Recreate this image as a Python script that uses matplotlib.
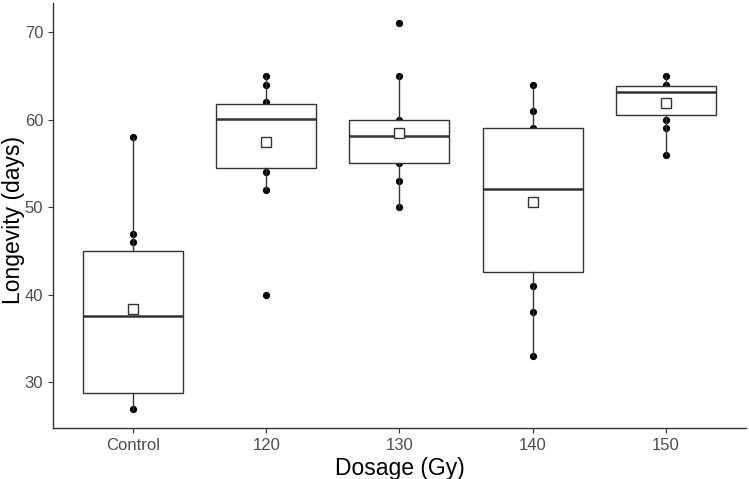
import matplotlib.pyplot as plt
import numpy as np

plt.rcParams['font.family'] = ['Liberation Sans', 'DejaVu Sans']

# values
groups = ['Control', '120', '130', '140', '150']
q1 = [28.8, 54.5, 55.0, 42.6, 60.5]
median = [37.6, 60.1, 58.1, 52.1, 63.2]
q3 = [45.0, 61.8, 60.0, 59.1, 63.8]
whislo = [27, 52, 50, 33, 56]
whishi = [58, 65, 65, 64, 65]
means = [38.35, 57.4, 58.5, 50.6, 61.95]
# individual points visible outside the boxes
points = [
    [27, 46, 47, 58],
    [40, 52, 54, 62, 64, 65],
    [50, 53, 55, 60, 65, 71],
    [33, 38, 41, 59, 61, 64],
    [56, 59, 60, 64, 65],
]

edge = '#333333'

fig = plt.figure(figsize=(7.49, 4.79), dpi=100)
ax = fig.add_axes([0.0708, 0.1065, 0.925, 0.887])

pos = np.arange(1, len(groups) + 1)

# dots first, boxes (white filled) on top
for p, vals in zip(pos, points):
    ax.plot([p] * len(vals), vals, 'o', color='black', markersize=4.2, zorder=2)

stats = []
for i in range(len(groups)):
    stats.append({'q1': q1[i], 'med': median[i], 'q3': q3[i],
                  'whislo': whislo[i], 'whishi': whishi[i], 'fliers': []})

ax.bxp(stats, positions=pos, widths=0.75, patch_artist=True, showcaps=False,
       boxprops=dict(facecolor='white', edgecolor=edge, linewidth=1.0),
       whiskerprops=dict(color=edge, linewidth=1.0),
       medianprops=dict(color=edge, linewidth=1.8),
       zorder=3)

ax.plot(pos, means, 's', markerfacecolor='white', markeredgecolor=edge,
        markersize=7, markeredgewidth=1.0, linestyle='none', zorder=5)

ax.set_xlim(0.4, 5.6)
ax.set_ylim(24.8, 73.3)
ax.set_yticks([30, 40, 50, 60, 70])
ax.set_xticks(pos)
ax.set_xticklabels(groups)

for s in ['top', 'right']:
    ax.spines[s].set_visible(False)
for s in ['left', 'bottom']:
    ax.spines[s].set_color(edge)
    ax.spines[s].set_linewidth(1.0)

ax.tick_params(colors=edge, labelcolor='#4D4D4D', labelsize=12, length=3.5, width=0.8)
ax.set_xlabel('Dosage (Gy)', fontsize=16.5, color='black', labelpad=3)
ax.set_ylabel('Longevity (days)', fontsize=16.5, color='black')
ax.yaxis.set_label_coords(-0.040, 0.49)

plt.savefig('out.png', dpi=100)
